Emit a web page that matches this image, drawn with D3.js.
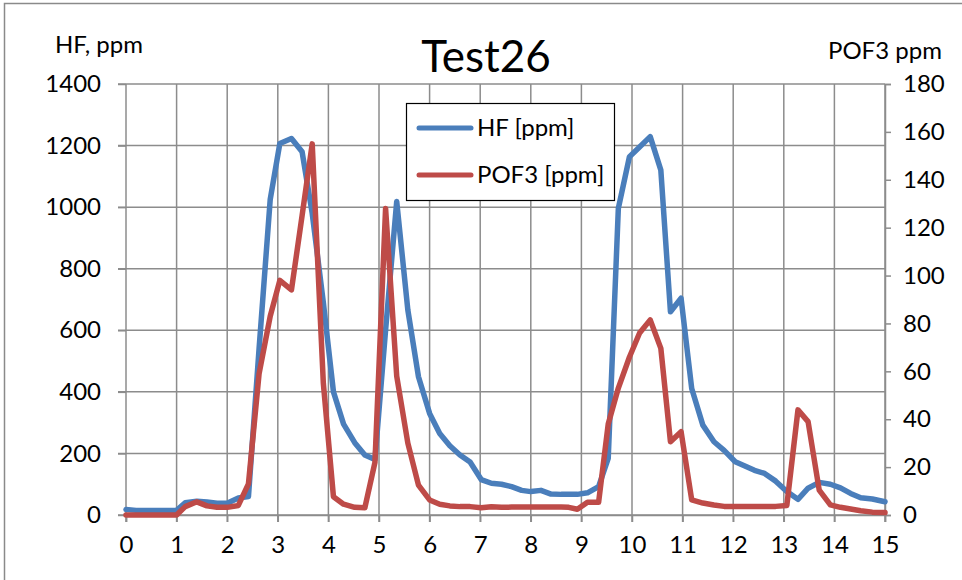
<!DOCTYPE html>
<html>
<head>
<meta charset="utf-8">
<script src="https://cdn.jsdelivr.net/npm/d3@7"></script>
<style>
  html, body { margin: 0; padding: 0; background: #fff; }
  text { font-family: Lato, "Open Sans", sans-serif; fill: #000; }
</style>
</head>
<body>
<svg id="chart" width="962" height="580"></svg>
<script>
// ---- data ----
const timeMin = [0, 0.2, 0.4, 0.6, 0.8, 1.0, 1.17, 1.4, 1.6, 1.8, 2.0, 2.22, 2.42, 2.63, 2.85,
  3.04, 3.27, 3.48, 3.68, 3.9, 4.1, 4.3, 4.52, 4.72, 4.92, 5.13, 5.35, 5.57, 5.78, 6.0,
  6.2, 6.4, 6.6, 6.8, 7.02, 7.22, 7.42, 7.62, 7.82, 8.0, 8.2, 8.4, 8.6, 8.75, 8.92, 9.12,
  9.34, 9.53, 9.73, 9.95, 10.15, 10.36, 10.57, 10.76, 10.97, 11.18, 11.4, 11.62, 11.82,
  12.04, 12.22, 12.42, 12.62, 12.84, 13.06, 13.28, 13.48, 13.7, 13.92, 14.12, 14.32,
  14.52, 14.75, 15.0];
const hfPpm = [18, 15, 15, 15, 15, 15, 40, 45, 42, 38, 38, 55, 60, 540, 1025,
  1207, 1223, 1180, 980, 690, 400, 295, 235, 195, 180, 600, 1018, 666, 449, 330,
  265, 225, 195, 172, 115, 103, 100, 92, 80, 76, 80, 68, 67, 67, 67, 72,
  92, 184, 996, 1164, 1195, 1229, 1120, 660, 704, 411, 292, 238, 210,
  173, 160, 145, 135, 110, 76, 51, 87, 106, 100, 88, 70,
  56, 52, 43];
const pof3Ppm = [0, 0, 0, 0, 0, 0, 3.5, 5.5, 3.8, 3.2, 3.2, 4, 13, 59, 83,
  98, 94, 125, 155, 55, 7.6, 4.5, 3.2, 3, 22, 128, 58, 30, 12.5, 6.3,
  4.5, 3.8, 3.5, 3.5, 3.0, 3.4, 3.2, 3.3, 3.3, 3.3, 3.3, 3.3, 3.3, 3.2, 2.4, 5.3,
  5.3, 38, 53, 66, 76, 81.5, 69.6, 30.6, 34.8, 6.3, 5, 4.2, 3.6,
  3.5, 3.5, 3.5, 3.5, 3.6, 4, 43.9, 39, 10.4, 4.2, 3.2, 2.5,
  1.8, 1.2, 1.0];
const xTicks = d3.range(0, 16, 1);
const hfTicks = [0, 200, 400, 600, 800, 1000, 1200, 1400];
const pofTicks = [0, 20, 40, 60, 80, 100, 120, 140, 160, 180];
const seriesNames = ["HF [ppm]", "POF3 [ppm]"];
const titleText = "Test26";
const leftLabel = "HF, ppm";
const rightLabel = "POF3 ppm";

// ---- layout ----
const svg = d3.select("#chart");
const L = 126, R = 885, T = 84, B = 515;
const blue = "#4a7ebb", red = "#be4b48", grid = "#8c8c8c";

const x = d3.scaleLinear().domain([0, 15]).range([L, R]);
const yL = d3.scaleLinear().domain([0, 1400]).range([B, T]);
const yR = d3.scaleLinear().domain([0, 180]).range([B, T]);

// outer chart frame (only top/left visible)
svg.append("rect").attr("x", 4.5).attr("y", 3.5).attr("width", 1200).attr("height", 800)
  .attr("fill", "none").attr("stroke", "#8a8a8a").attr("stroke-width", 1.5);

// gridlines
svg.append("g").selectAll("line").data(hfTicks).join("line")
  .attr("x1", L - 8).attr("x2", R).attr("y1", d => yL(d)).attr("y2", d => yL(d))
  .attr("stroke", grid).attr("stroke-width", 1.5);
svg.append("g").selectAll("line").data(xTicks).join("line")
  .attr("x1", d => x(d)).attr("x2", d => x(d)).attr("y1", T).attr("y2", B + 7)
  .attr("stroke", grid).attr("stroke-width", 1.5);

// axes (labels via d3 axes)
const axL = svg.append("g").attr("transform", `translate(${L},0)`)
  .call(d3.axisLeft(yL).tickValues(hfTicks).tickSize(8).tickPadding(17).tickFormat(d3.format("d")));
const axR = svg.append("g").attr("transform", `translate(${R},0)`)
  .call(d3.axisRight(yR).tickValues(pofTicks).tickSize(6).tickPadding(12).tickFormat(d3.format("d")));
const axB = svg.append("g").attr("transform", `translate(0,${B})`)
  .call(d3.axisBottom(x).tickValues(xTicks).tickSize(7).tickPadding(14).tickFormat(d3.format("d")));
[axL, axR, axB].forEach(a => {
  a.select(".domain").attr("stroke", grid).attr("stroke-width", 1.5);
  a.selectAll(".tick line").attr("stroke", grid).attr("stroke-width", 1.5);
  a.selectAll("text").attr("font-size", 24).attr("font-family", "Lato, sans-serif").attr("fill", "#000");
});
axL.select(".domain").remove();

// lines
const lineHF = d3.line().x((d, i) => x(timeMin[i])).y(d => yL(d));
const linePOF = d3.line().x((d, i) => x(timeMin[i])).y(d => yR(d));
svg.append("path").datum(hfPpm).attr("d", lineHF).attr("fill", "none")
  .attr("stroke", blue).attr("stroke-width", 5.5).attr("stroke-linejoin", "round").attr("stroke-linecap", "round");
svg.append("path").datum(pof3Ppm).attr("d", linePOF).attr("fill", "none")
  .attr("stroke", red).attr("stroke-width", 5.5).attr("stroke-linejoin", "round").attr("stroke-linecap", "round");

// titles
svg.append("text").attr("x", 486).attr("y", 72).attr("text-anchor", "middle")
  .attr("font-size", 44).text(titleText);
svg.append("text").attr("x", 55).attr("y", 53).attr("font-size", 24).text(leftLabel);
svg.append("text").attr("x", 828).attr("y", 59).attr("font-size", 24).text(rightLabel);

// legend
const lg = svg.append("g");
lg.append("rect").attr("x", 406.5).attr("y", 103.5).attr("width", 208).attr("height", 97)
  .attr("fill", "#fff").attr("stroke", "#000").attr("stroke-width", 1.2);
const lgColors = [blue, red];
const lgY = [128, 175];
seriesNames.forEach((n, i) => {
  lg.append("line").attr("x1", 419).attr("x2", 471).attr("y1", lgY[i]).attr("y2", lgY[i])
    .attr("stroke", lgColors[i]).attr("stroke-width", 5).attr("stroke-linecap", "round");
  lg.append("text").attr("x", 477).attr("y", lgY[i]).attr("dy", "0.35em")
    .attr("font-size", 24).text(n);
});
</script>
</body>
</html>
